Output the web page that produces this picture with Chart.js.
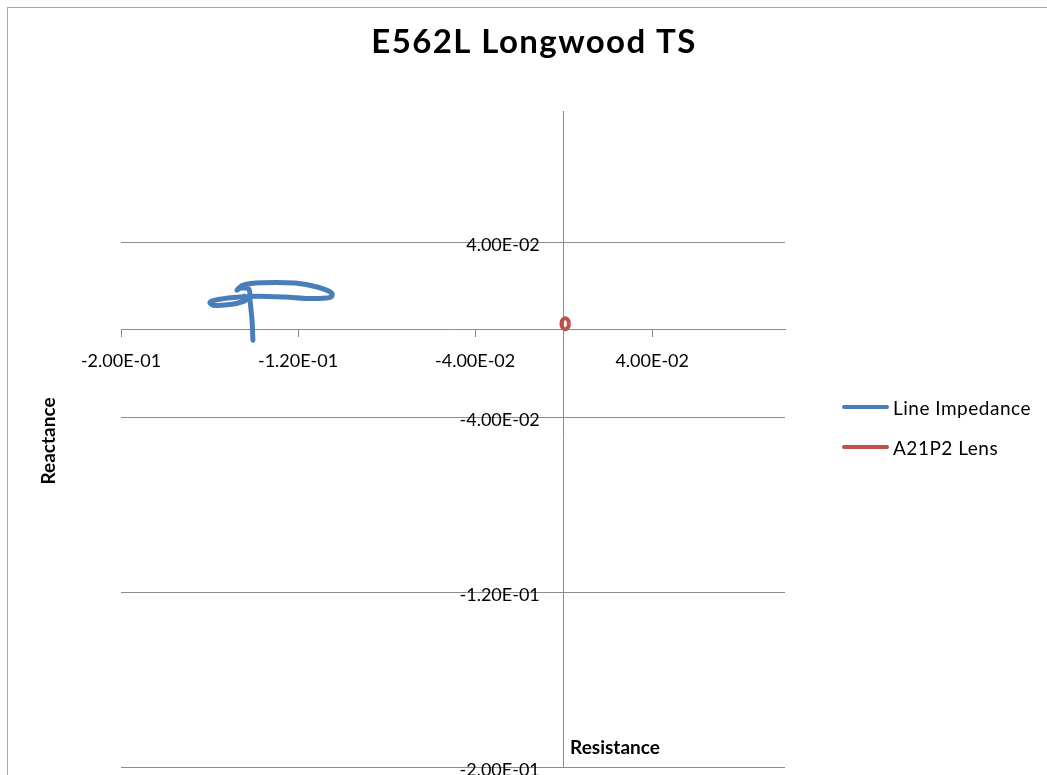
<!DOCTYPE html>
<html>
<head>
<meta charset="utf-8">
<title>E562L Longwood TS</title>
<script src="https://cdn.jsdelivr.net/npm/chart.js@4.4.1/dist/chart.umd.min.js"></script>
<style>
    html, body { margin: 0; padding: 0; background: #fff; overflow: hidden; }
    #wrap { position: relative; width: 1047px; height: 775px; }
    #frame { position: absolute; left: 7px; top: 7px; width: 1100px; height: 800px; border: 1px solid #a6a6a6; pointer-events: none; }
    #legend { position: absolute; left: 842px; top: 395px; font-family: Lato, sans-serif; font-size: 19px; letter-spacing: 0.5px; color: #000; }
    .item { display: flex; align-items: center; height: 24px; margin-bottom: 16px; }
    .swatch { width: 47px; height: 4px; border-radius: 2px; margin-right: 4px; }
</style>
</head>
<body>
<div id="wrap">
    <canvas id="impedanceChart"></canvas>
    <div id="frame"></div>
    <div id="legend"></div>
</div>
<script>
// Resistance (x) / Reactance (y) values
const impedanceR = [-0.1404, -0.1408, -0.1417, -0.1422, -0.1458, -0.1476, -0.1449, -0.1363, -0.1214, -0.1110, -0.1047,
    -0.1051, -0.1137, -0.1259, -0.1381, -0.1463, -0.1553, -0.1598, -0.1585, -0.1499, -0.1436, -0.1445];
const impedanceX = [-0.0048, 0.0043, 0.0135, 0.0185, 0.0190, 0.0181, 0.0204, 0.0215, 0.0213, 0.0194, 0.0167,
    0.0149, 0.0142, 0.0149, 0.0153, 0.0149, 0.0139, 0.0126, 0.0112, 0.0116, 0.0135, 0.0153];

const lensR = [0.0024, 0.00217, 0.00155, 0.0007, -0.00015, -0.00077, -0.0010, -0.00077, -0.00015, 0.0007, 0.00155, 0.00217, 0.0024];
const lensX = [0.0027, 0.00395, 0.00487, 0.0052, 0.00487, 0.00395, 0.0027, 0.00145, 0.00053, 0.0002, 0.00053, 0.00145, 0.0027];

const xTicks = [-0.2, -0.12, -0.04, 0.04];
const xTickLabels = ['-2.00E-01', '-1.20E-01', '-4.00E-02', '4.00E-02'];
const yTicks = [-0.2, -0.12, -0.04, 0.04];
const yTickLabels = ['-2.00E-01', '-1.20E-01', '-4.00E-02', '4.00E-02'];

const seriesNames = ['Line Impedance', 'A21P2 Lens'];
const seriesColors = ['#4A7EBB', '#C0504D'];

const axisGray = '#8c8c8c';
const tickFont = { family: 'Lato', size: 18 };

function toPoints(xs, ys) {
    return xs.map((v, i) => ({ x: v, y: ys[i] }));
}

// scales sit on the chart area, they should not take room from it
function noRoom(s) {
    if (s.isHorizontal()) s.height = 0; else s.width = 0;
    s.paddingTop = s.paddingBottom = s.paddingLeft = s.paddingRight = 0;
}

// title and axis titles sit where Excel put them
const chartTexts = {
    id: 'chartTexts',
    afterDraw(chart) {
        const ctx = chart.ctx;
        ctx.save();
        ctx.fillStyle = '#000';
        ctx.textAlign = 'center';
        ctx.font = 'bold 33px Lato';
        ctx.textBaseline = 'alphabetic';
        if ('letterSpacing' in ctx) ctx.letterSpacing = '1.4px';
        ctx.fillText('E562L Longwood TS', 534, 53);
        if ('letterSpacing' in ctx) ctx.letterSpacing = '0px';
        ctx.font = 'bold 19px Lato';
        ctx.textBaseline = 'middle';
        ctx.fillText('Resistance', 615, 748);
        ctx.translate(49, 441);
        ctx.rotate(-Math.PI / 2);
        ctx.fillText('Reactance', 0, 0);
        ctx.restore();
    }
};

const chart = new Chart(document.querySelector('#impedanceChart'), {
    type: 'scatter',
    data: {
        datasets: [{
            label: seriesNames[0],
            data: toPoints(impedanceR, impedanceX),
            showLine: true,
            borderColor: seriesColors[0],
            borderWidth: 5,
            pointRadius: 0,
            tension: 0.3,
            borderCapStyle: 'round',
            borderJoinStyle: 'round'
        }, {
            label: seriesNames[1],
            data: toPoints(lensR, lensX),
            showLine: true,
            borderColor: seriesColors[1],
            borderWidth: 4,
            pointRadius: 0,
            tension: 0.4
        }]
    },
    options: {
        responsive: true,
        maintainAspectRatio: false,
        animation: false,
        layout: {
            padding: { left: 121, right: 262, top: 111, bottom: 8 }
        },
        plugins: {
            legend: { display: false },
            tooltip: { enabled: false },
            title: { display: false }
        },
        scales: {
            x: {
                type: 'linear',
                min: -0.2,
                max: 0.1,
                position: { y: 0 },
                afterFit: noRoom,
                afterBuildTicks: s => { s.ticks = xTicks.map(v => ({ value: v })); },
                grid: { drawOnChartArea: false, color: axisGray, tickLength: 7 },
                border: { color: axisGray },
                ticks: {
                    callback: (v, i) => xTickLabels[i],
                    color: '#000',
                    font: tickFont,
                    padding: 14,
                    maxRotation: 0,
                    autoSkip: false
                }
            },
            y: {
                type: 'linear',
                min: -0.2,
                max: 0.1,
                position: { x: 0 },
                afterFit: noRoom,
                afterBuildTicks: s => { s.ticks = yTicks.map(v => ({ value: v })); },
                grid: { color: axisGray, drawTicks: false },
                border: { color: axisGray },
                ticks: { display: false }
            },
            // second y scale only for the tick labels, set a little left of the vertical axis
            yLabels: {
                type: 'linear',
                axis: 'y',
                min: -0.2,
                max: 0.1,
                position: { x: -0.0108 },
                afterFit: noRoom,
                afterBuildTicks: s => { s.ticks = yTicks.map(v => ({ value: v })); },
                grid: { display: false },
                border: { display: false },
                ticks: {
                    callback: (v, i) => yTickLabels[i],
                    color: '#000',
                    font: tickFont,
                    labelOffset: 3,
                    autoSkip: false
                }
            }
        }
    },
    plugins: [chartTexts]
});

// legend built from the datasets
const legend = document.querySelector('#legend');
chart.data.datasets.forEach(ds => {
    const row = document.createElement('div');
    row.className = 'item';
    row.innerHTML = `<span class="swatch" style="background:${ds.borderColor}"></span><span>${ds.label}</span>`;
    legend.appendChild(row);
});
</script>
</body>
</html>
